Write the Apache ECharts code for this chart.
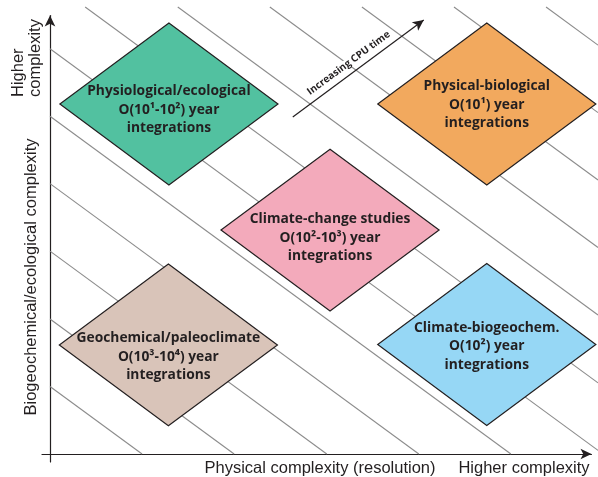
<!DOCTYPE html>
<html><head><meta charset="utf-8">
<script src="https://cdn.jsdelivr.net/npm/echarts@6/dist/echarts.min.js"></script>
<style>html,body{margin:0;padding:0;background:#fff}#c{width:598px;height:477px}</style>
</head><body><div id="c"></div>
<script>
// ---- data (abstract complexity units, 0..100 on each axis) ----
const regimes = ['Physiological/ecological', 'Physical-biological', 'Climate-change studies', 'Geochemical/paleoclimate', 'Climate-biogeochem.'];
const timescales = ['O(10¹-10²) year', 'O(10¹) year', 'O(10²-10³) year', 'O(10³-10⁴) year', 'O(10²) year'];
const physicalComplexity = [21.7, 79.7, 51.1, 21.6, 79.7];
const biogeoComplexity = [78.3, 78.3, 50.1, 24.4, 24.5];
// where each background hatch line crosses the physical-complexity axis (extended)
const hatchCrossings = [16.8, 33.6, 50.5, 67.3, 84.1, 100.9, 117.7, 134.6, 151.4, 168.2, 185.0, 201.8];
const cpuArrowFrom = [44.3, 75.4];
const cpuArrowTo = [68.2, 97.1];
const xTitle = 'Physical complexity (resolution)';
const xEndTitle = 'Higher complexity';
const yTitle = 'Biogeochemical/ecological complexity';
const yEndTitle = 'Higher\ncomplexity';
const cpuLabel = 'Increasing CPU time';

// ---- styles ----
const fills = ['#52c1a0', '#f2a95e', '#f3aabb', '#d9c4b9', '#96d7f5'];
const textShift = [6, 1, 8, 12, 2];
const HALF_X = 19.9, HALF_Y = 18.1;      // diamond half-extents in axis units
const HATCH_SLOPE = 0.8986;              // hatch drop per axis unit
const INK = '#231f20';
const SANS = 'Liberation Sans, Arial, sans-serif';
const BOLD = 'Open Sans, sans-serif';

const hatchData = hatchCrossings.map(b => {
  const x0 = Math.max(0, b - 100 / HATCH_SLOPE);
  const x1 = Math.min(100, b);
  return { coords: [[x0, HATCH_SLOPE * (b - x0)], [x1, HATCH_SLOPE * (b - x1)]] };
});

const chart = echarts.init(document.getElementById('c'), null, { renderer: 'canvas' });
chart.setOption({
  animation: false,
  backgroundColor: '#fff',
  grid: { left: 42, right: 6.5, top: 15.5, bottom: 15, outerBoundsMode: 'none' },
  xAxis: {
    type: 'value', min: -1.46, max: 98.81,
    axisLine: { onZero: true, symbol: ['none', 'arrow'], symbolSize: [8, 11], lineStyle: { color: INK, width: 1.2 } },
    axisTick: { show: false }, axisLabel: { show: false }, splitLine: { show: false }
  },
  yAxis: {
    type: 'value', min: -1.79, max: 98.10,
    axisLine: { onZero: true, symbol: ['none', 'arrow'], symbolSize: [8, 11], lineStyle: { color: INK, width: 1.2 } },
    axisTick: { show: false }, axisLabel: { show: false }, splitLine: { show: false }
  },
  series: [
    {
      type: 'lines', coordinateSystem: 'cartesian2d', clip: false, silent: true, z: 1,
      lineStyle: { color: '#8c8c8c', width: 1.1, opacity: 1, curveness: 0 },
      data: hatchData,
      markLine: {
        silent: true, symbol: ['none', 'arrow'], symbolSize: [8, 11],
        lineStyle: { color: INK, width: 1.2, type: 'solid' },
        label: {
          show: true, position: 'middle', distance: 4,
          formatter: '{t|' + cpuLabel + '}{g|}',
          rich: {
            t: { fontFamily: BOLD, fontWeight: 'bold', fontSize: 10, color: INK, backgroundColor: '#fff', padding: [0, 1] },
            g: { width: 9 }
          }
        },
        data: [[{ coord: cpuArrowFrom }, { coord: cpuArrowTo }]]
      }
    },
    {
      type: 'custom', z: 3, silent: true,
      data: physicalComplexity.map((x, i) => [x, biogeoComplexity[i]]),
      encode: { x: 0, y: 1 },
      renderItem: function (params, api) {
        const i = params.dataIndex;
        const x = api.value(0), y = api.value(1);
        const pts = [api.coord([x, y + HALF_Y]), api.coord([x + HALF_X, y]), api.coord([x, y - HALF_Y]), api.coord([x - HALF_X, y])];
        const c = api.coord([x, y]);
        return {
          type: 'group',
          children: [
            { type: 'polygon', shape: { points: pts }, style: { fill: fills[i], stroke: INK, lineWidth: 1.2 } },
            {
              type: 'text', x: c[0], y: c[1] + textShift[i],
              style: {
                text: regimes[i] + '\n' + timescales[i] + '\nintegrations',
                fill: INK, fontFamily: BOLD, fontWeight: 'bold', fontSize: 13.8,
                align: 'center', verticalAlign: 'middle', lineHeight: 18.5
              }
            }
          ]
        };
      }
    }
  ],
  graphic: [
    { type: 'text', x: 320, y: 468, style: { text: xTitle, fontFamily: SANS, fontSize: 16.5, fill: INK, align: 'center', verticalAlign: 'middle' } },
    { type: 'text', x: 524, y: 468, style: { text: xEndTitle, fontFamily: SANS, fontSize: 16.5, fill: INK, align: 'center', verticalAlign: 'middle' } },
    { type: 'text', x: 31.5, y: 277, rotation: Math.PI / 2, style: { text: yTitle, fontFamily: SANS, fontSize: 16.5, fill: INK, align: 'center', verticalAlign: 'middle' } },
    { type: 'text', x: 26.5, y: 97, rotation: Math.PI / 2, style: { text: yEndTitle, fontFamily: SANS, fontSize: 16.5, fill: INK, align: 'left', verticalAlign: 'middle', lineHeight: 17 } }
  ]
});
</script></body></html>
